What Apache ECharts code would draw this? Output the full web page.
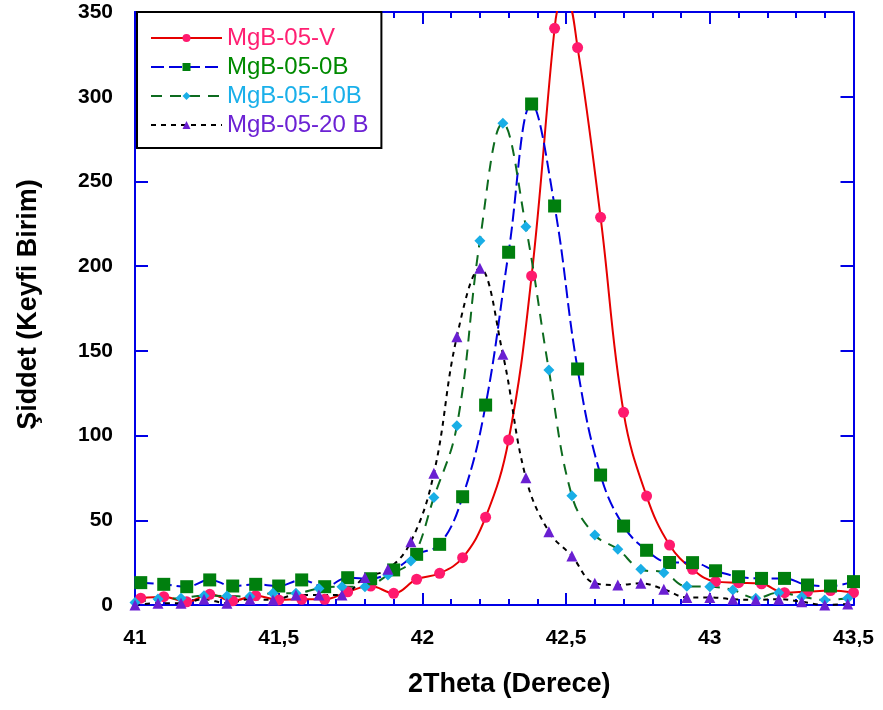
<!DOCTYPE html>
<html>
<head>
<meta charset="utf-8">
<script src="https://cdn.jsdelivr.net/npm/echarts@6/dist/echarts.min.js"></script>
<style>
  html, body { margin: 0; padding: 0; background: #ffffff; }
  #chart { width: 883px; height: 710px; }
</style>
</head>
<body>
<div id="chart"></div>
<script>
// 2Theta positions (degrees) of the marked points
const thetaA = [41.02, 41.10, 41.18, 41.26, 41.34, 41.42, 41.50, 41.58, 41.66, 41.74, 41.82,
  41.90, 41.98, 42.06, 42.14, 42.22, 42.30, 42.38, 42.46, 42.54, 42.62, 42.70, 42.78, 42.86,
  42.94, 43.02, 43.10, 43.18, 43.26, 43.34, 43.42, 43.50];
const thetaB = [41.00, 41.08, 41.16, 41.24, 41.32, 41.40, 41.48, 41.56, 41.64, 41.72, 41.80,
  41.88, 41.96, 42.04, 42.12, 42.20, 42.28, 42.36, 42.44, 42.52, 42.60, 42.68, 42.76, 42.84,
  42.92, 43.00, 43.08, 43.16, 43.24, 43.32, 43.40, 43.48];

// Intensities (arbitrary units)
const mgbV = [4.0, 4.9, 1.9, 6.3, 2.5, 5.5, 3.0, 3.4, 3.4, 7.8, 11.2, 6.9, 15.2, 18.7, 27.9,
  51.8, 97.4, 194.2, 340.4, 329, 228.8, 113.7, 64.3, 35.4, 21.1, 13.8, 13.2, 12.5, 7.3, 7.9, 8.5, 7.3];
// unmarked points at the top of the MgB-05-V peak
const mgbVPeakTheta = [42.48, 42.50];
const mgbVPeak = [357, 358];

const mgb0B = [13.2, 12.2, 10.8, 14.8, 11.2, 12.2, 11.2, 14.8, 10.8, 16.1, 15.5, 20.7, 29.9,
  35.8, 63.9, 118, 208.2, 295.7, 235.5, 139.3, 76.7, 46.6, 32.3, 25.1, 25.0, 20.2, 16.7, 15.7,
  15.7, 11.8, 11.2, 13.8];
const mgb10B = [1.5, 3.5, 4.0, 5.5, 5.3, 5.0, 6.9, 7.0, 9.8, 10.8, 10.8, 17.7, 26.0, 63.5,
  105.8, 215, 284.3, 223.3, 138.7, 64.5, 41.3, 32.9, 21.1, 19.1, 11.0, 10.8, 8.9, 4.0, 7.3, 4.9, 3.0, 4.0];
const mgb20B = [0, 1.0, 1.0, 3.4, 1.0, 3.4, 3.0, 5.9, 5.9, 5.9, 16.3, 21.1, 37.4, 77.7, 158.4,
  198.7, 148, 75.1, 43.3, 28.9, 12.8, 11.8, 12.8, 9.3, 4.5, 4.5, 3.4, 3.0, 3.4, 1.9, 0, 0.6];

const xTicks = [41, 41.5, 42, 42.5, 43, 43.5];
const yTicks = [0, 50, 100, 150, 200, 250, 300, 350];

const seriesNames = ['MgB-05-V', 'MgB-05-0B', 'MgB-05-10B', 'MgB-05-20 B'];
const textColors = ['#ff1f72', '#008a00', '#1ab0ea', '#6c22d4'];

function pairs(xs, ys) {
  return xs.map((x, i) => [x, ys[i]]);
}

// marked points plus the unmarked peak points, in order of 2Theta
const vData = pairs(thetaA, mgbV)
  .concat(mgbVPeakTheta.map((x, i) => ({ value: [x, mgbVPeak[i]], symbol: 'none' })))
  .sort((a, b) => (Array.isArray(a) ? a[0] : a.value[0]) - (Array.isArray(b) ? b[0] : b.value[0]));

const axisBlue = '#0000e6';
const fontFam = 'Liberation Sans, Arial, sans-serif';

function xAxisCfg(pos, showLabels) {
  return {
    type: 'value', position: pos, min: 41, max: 43.5, interval: 0.5,
    axisLine: { show: true, onZero: false, lineStyle: { color: axisBlue, width: 2 } },
    axisTick: { show: true, inside: true, length: 12, lineStyle: { color: axisBlue, width: 2 } },
    minorTick: { show: true, splitNumber: 5, length: 6, lineStyle: { color: axisBlue, width: 2 } },
    splitLine: { show: false },
    axisLabel: {
      show: showLabels, margin: 23, color: '#000', fontFamily: fontFam, fontWeight: 'bold', fontSize: 21,
      formatter: v => xTicks.includes(v) ? String(v).replace('.', ',') : ''
    },
    name: showLabels ? '2Theta (Derece)' : '',
    nameLocation: 'middle', nameGap: 66,
    nameTextStyle: {
      color: '#000', fontFamily: fontFam, fontWeight: 'bold', fontSize: 27,
      padding: [0, 0, 0, 30]
    }
  };
}

function yAxisCfg(pos, showLabels) {
  return {
    type: 'value', position: pos, min: 0, max: 350, interval: 50,
    axisLine: { show: true, onZero: false, lineStyle: { color: axisBlue, width: 2 } },
    axisTick: { show: true, inside: true, length: 13, lineStyle: { color: axisBlue, width: 2 } },
    splitLine: { show: false },
    axisLabel: {
      show: showLabels, margin: 22, color: '#000', fontFamily: fontFam, fontWeight: 'bold', fontSize: 21,
      formatter: v => yTicks.includes(v) ? String(v) : ''
    },
    name: showLabels ? 'Şiddet (Keyfi Birim)' : '',
    nameLocation: 'middle', nameGap: 93,
    nameTextStyle: {
      color: '#000', fontFamily: fontFam, fontWeight: 'bold', fontSize: 27,
      padding: [0, 0, 0, 8]
    }
  };
}

const chart = echarts.init(document.getElementById('chart'), null, { renderer: 'canvas' });

chart.setOption({
  backgroundColor: '#ffffff',
  animation: false,
  grid: { left: 135, right: 29.5, top: 12, bottom: 105, containLabel: false },
  xAxis: [xAxisCfg('bottom', true), xAxisCfg('top', false)],
  yAxis: [yAxisCfg('left', true), yAxisCfg('right', false)],
  legend: {
    orient: 'vertical', left: 137, top: 12,
    backgroundColor: '#ffffff', borderColor: '#000000', borderWidth: 2, borderRadius: 0,
    padding: [14, 13, 11, 13],
    itemWidth: 71, itemHeight: 10, itemGap: 5,
    textStyle: { fontFamily: fontFam, fontSize: 24, lineHeight: 21 },
    data: seriesNames.map((n, i) => ({ name: n, textStyle: { color: textColors[i] } }))
  },
  series: [
    {
      name: seriesNames[0], type: 'line', smooth: 0.4, data: vData,
      symbol: 'circle', symbolSize: 11,
      lineStyle: { color: '#e60000', width: 2, type: 'solid' },
      itemStyle: { color: '#ff1a6e' }
    },
    {
      name: seriesNames[1], type: 'line', smooth: 0.4, data: pairs(thetaA, mgb0B),
      symbol: 'rect', symbolSize: 13,
      lineStyle: { color: '#0000e0', width: 2, type: [13, 5] },
      itemStyle: { color: '#007f0e' }
    },
    {
      name: seriesNames[2], type: 'line', smooth: 0.4, data: pairs(thetaB, mgb10B),
      symbol: 'diamond', symbolSize: 11,
      lineStyle: { color: '#0d6b1f', width: 2, type: [11, 8] },
      itemStyle: { color: '#19aee6' }
    },
    {
      name: seriesNames[3], type: 'line', smooth: 0.4, data: pairs(thetaB, mgb20B),
      symbol: 'triangle', symbolSize: 11,
      lineStyle: { color: '#000000', width: 2, type: [5, 5] },
      itemStyle: { color: '#6a1fd2' }
    }
  ]
});
</script>
</body>
</html>
